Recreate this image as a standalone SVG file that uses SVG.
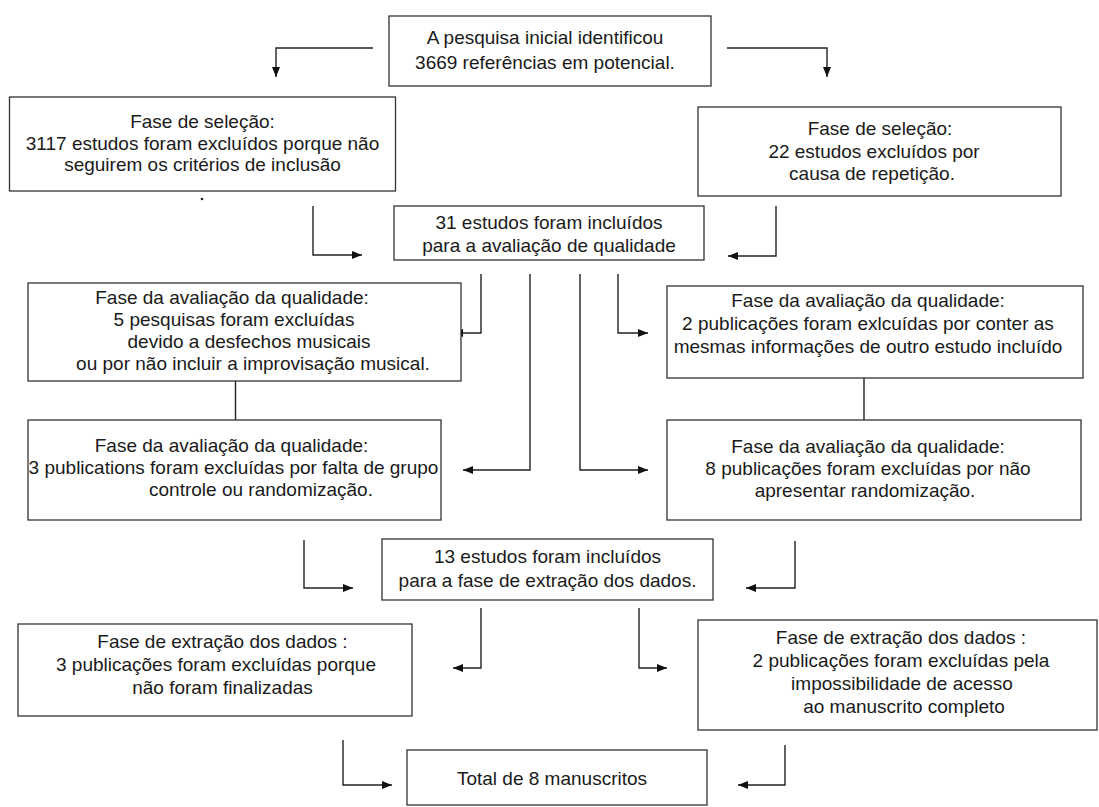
<svg xmlns="http://www.w3.org/2000/svg" width="1099" height="807" viewBox="0 0 1099 807">
<defs>
<style>
.box{fill:#fff;stroke:#333;stroke-width:1.3}
.t{font-family:"Liberation Sans",Arial,sans-serif;font-size:19px;fill:#1a1a1a;text-anchor:middle}
.c{fill:none;stroke:#222;stroke-width:1.4}
</style>
<marker id="ah" viewBox="0 0 10 8" refX="10" refY="4" markerWidth="10" markerHeight="8" markerUnits="userSpaceOnUse" orient="auto">
<path d="M0,0 L10,4 L0,8 z" fill="#111"/>
</marker>
</defs>
<rect width="1099" height="807" fill="#fff"/>

<g id="connectors">
<path class="c" d="M373,48 H276 V77" marker-end="url(#ah)"/>
<path class="c" d="M727,48 H827 V77" marker-end="url(#ah)"/>
<path class="c" d="M313,206 V255 H362" marker-end="url(#ah)"/>
<path class="c" d="M776,206 V256 H728" marker-end="url(#ah)"/>
<path class="c" d="M481,274 V333 H453" marker-end="url(#ah)"/>
<path class="c" d="M530,274 V470 H463" marker-end="url(#ah)"/>
<path class="c" d="M580,274 V470 H648" marker-end="url(#ah)"/>
<path class="c" d="M618,274 V333 H648" marker-end="url(#ah)"/>
<path class="c" d="M235.5,381 V420"/>
<path class="c" d="M864,378 V420"/>
<path class="c" d="M304,540 V588 H353" marker-end="url(#ah)"/>
<path class="c" d="M795,541 V588 H746" marker-end="url(#ah)"/>
<path class="c" d="M481,608 V668 H453" marker-end="url(#ah)"/>
<path class="c" d="M639,608 V668 H667" marker-end="url(#ah)"/>
<path class="c" d="M343,740 V785 H392" marker-end="url(#ah)"/>
<path class="c" d="M785,745 V785 H738" marker-end="url(#ah)"/>
</g>

<g id="n-inicial">
<rect class="box" x="389" y="16" width="322" height="70"/>
<text class="t" x="545" y="44">A pesquisa inicial identificou</text>
<text class="t" x="545" y="69">3669 referências em potencial.</text>
</g>

<g id="n-selecao-1">
<rect class="box" x="9.5" y="97" width="386" height="94"/>
<text class="t" x="202.5" y="128">Fase de seleção:</text>
<text class="t" x="202.5" y="150">3117 estudos foram excluídos porque não</text>
<text class="t" x="202.5" y="171">seguirem os critérios de inclusão</text>
<circle cx="202" cy="199" r="1.3" fill="#222"/>
</g>

<g id="n-selecao-2">
<rect class="box" x="698" y="107" width="363" height="89"/>
<text class="t" x="880" y="135">Fase de seleção:</text>
<text class="t" x="874" y="158">22 estudos excluídos por</text>
<text class="t" x="872" y="180">causa de repetição.</text>
</g>

<g id="n-incluidos-31">
<rect class="box" x="394" y="206" width="310" height="54"/>
<text class="t" x="549" y="229">31 estudos foram incluídos</text>
<text class="t" x="549" y="252">para a avaliação de qualidade</text>
</g>

<g id="n-qual-1">
<rect class="box" x="28" y="283" width="433" height="98"/>
<text class="t" x="232" y="304">Fase da avaliação da qualidade:</text>
<text class="t" x="234" y="326">5 pesquisas foram excluídas</text>
<text class="t" x="249" y="348">devido a desfechos musicais</text>
<text class="t" x="253" y="370">ou por não incluir a improvisação musical.</text>
</g>

<g id="n-qual-2">
<rect class="box" x="667" y="286" width="416" height="92"/>
<text class="t" x="868" y="307">Fase da avaliação da qualidade:</text>
<text class="t" x="868" y="330">2 publicações foram exlcuídas por conter as</text>
<text class="t" x="868" y="353">mesmas informações de outro estudo incluído</text>
</g>

<g id="n-qual-3">
<rect class="box" x="28" y="420" width="413" height="100"/>
<text class="t" x="231.5" y="452">Fase da avaliação da qualidade:</text>
<text class="t" x="233.5" y="474">3 publications foram excluídas por falta de grupo</text>
<text class="t" x="261" y="496">controle ou randomização.</text>
</g>

<g id="n-qual-4">
<rect class="box" x="667" y="420" width="414" height="100"/>
<text class="t" x="868" y="453">Fase da avaliação da qualidade:</text>
<text class="t" x="868" y="475">8 publicações foram excluídas por não</text>
<text class="t" x="865" y="497">apresentar randomização.</text>
</g>

<g id="n-incluidos-13">
<rect class="box" x="382" y="539" width="331" height="61"/>
<text class="t" x="547.5" y="563">13 estudos foram incluídos</text>
<text class="t" x="547.5" y="587">para a fase de extração dos dados.</text>
</g>

<g id="n-extracao-1">
<rect class="box" x="18" y="624" width="394" height="92"/>
<text class="t" x="222.5" y="648">Fase de extração dos dados :</text>
<text class="t" x="216" y="671">3 publicações foram excluídas porque</text>
<text class="t" x="222.5" y="694">não foram finalizadas</text>
</g>

<g id="n-extracao-2">
<rect class="box" x="698" y="620" width="399" height="110"/>
<text class="t" x="901" y="644">Fase de extração dos dados :</text>
<text class="t" x="901" y="667">2 publicações foram excluídas pela</text>
<text class="t" x="902" y="690">impossibilidade de acesso</text>
<text class="t" x="904" y="713">ao manuscrito completo</text>
</g>

<g id="n-total">
<rect class="box" x="407" y="750" width="300" height="55"/>
<text class="t" x="552" y="785">Total de 8 manuscritos</text>
</g>
</svg>
